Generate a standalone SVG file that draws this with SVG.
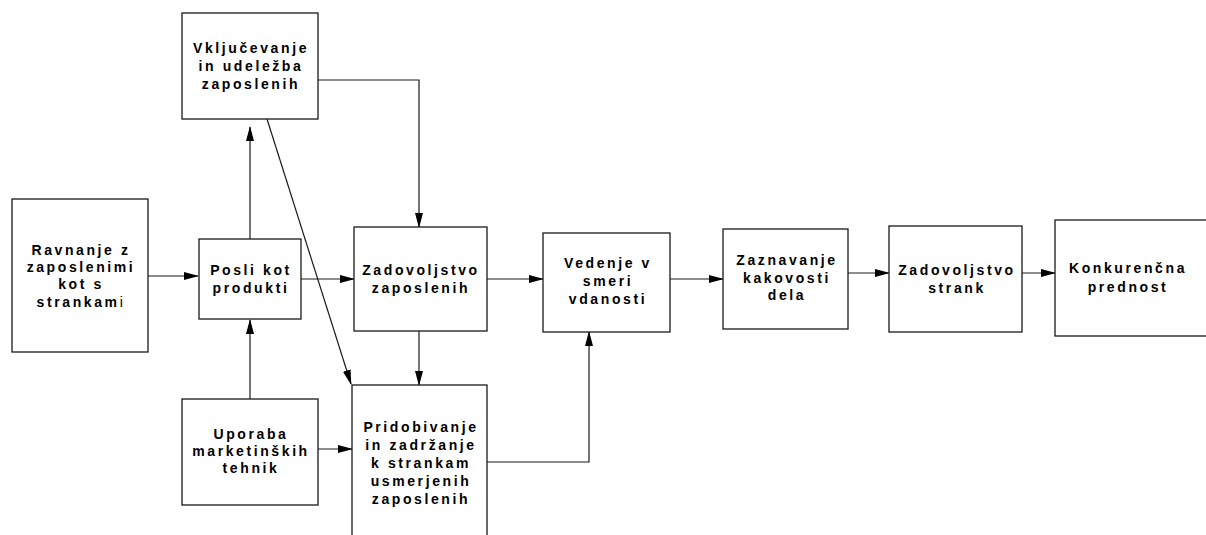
<svg xmlns="http://www.w3.org/2000/svg" width="1206" height="535" viewBox="0 0 1206 535">
  <defs>
    <marker id="arrow" markerWidth="15" markerHeight="9" refX="14" refY="4" orient="auto" markerUnits="userSpaceOnUse">
      <path d="M0,0 L15,4 L0,8 Z" fill="#000"/>
    </marker>
    <style>
      .box { fill: #fff; stroke: #1a1a1a; stroke-width: 1.3; }
      .lbl { font-family: "Liberation Sans", Arial, sans-serif; font-size: 14px; font-weight: bold; letter-spacing: 2.6px; fill: #000; text-anchor: middle; }
      .conn { fill: none; stroke: #1a1a1a; stroke-width: 1.2; }
      .thin { font-weight: normal; }
    </style>
  </defs>
  <rect width="1206" height="535" fill="#fff"/>

  <!-- connectors -->
  <g id="connectors">
    <line class="conn" x1="148" y1="276" x2="198" y2="276" marker-end="url(#arrow)"/>
    <line class="conn" x1="250" y1="239" x2="250" y2="127" marker-end="url(#arrow)"/>
    <line class="conn" x1="250" y1="399" x2="250" y2="320" marker-end="url(#arrow)"/>
    <line class="conn" x1="301" y1="279" x2="354" y2="279" marker-end="url(#arrow)"/>
    <polyline class="conn" points="318,80 419,80 419,227" marker-end="url(#arrow)"/>
    <line class="conn" x1="267" y1="119" x2="351" y2="384" marker-end="url(#arrow)"/>
    <line class="conn" x1="419" y1="331" x2="419" y2="385" marker-end="url(#arrow)"/>
    <line class="conn" x1="318" y1="449" x2="352" y2="449" marker-end="url(#arrow)"/>
    <polyline class="conn" points="487,462 589,462 589,332" marker-end="url(#arrow)"/>
    <line class="conn" x1="487" y1="279" x2="543" y2="279" marker-end="url(#arrow)"/>
    <line class="conn" x1="670" y1="279" x2="723" y2="279" marker-end="url(#arrow)"/>
    <line class="conn" x1="848" y1="273" x2="889" y2="273" marker-end="url(#arrow)"/>
    <line class="conn" x1="1022" y1="273" x2="1055" y2="273" marker-end="url(#arrow)"/>
  </g>

  <g id="ravnanje">
    <rect class="box" x="12" y="199" width="136" height="153"/>
    <text class="lbl" x="81" y="255">Ravnanje z</text>
    <text class="lbl" x="81" y="272">zaposlenimi</text>
    <text class="lbl" x="81" y="289">kot s</text>
    <text class="lbl" x="81" y="307">strankam<tspan class="thin">i</tspan></text>
  </g>

  <g id="posli">
    <rect class="box" x="199" y="239" width="102" height="80"/>
    <text class="lbl" x="251" y="275">Posli kot</text>
    <text class="lbl" x="251" y="293">produkti</text>
  </g>

  <g id="vkljucevanje">
    <rect class="box" x="182" y="13" width="136" height="106"/>
    <text class="lbl" x="251" y="53">Vključevanje</text>
    <text class="lbl" x="251" y="71">in udeležba</text>
    <text class="lbl" x="251" y="89">zaposlenih</text>
  </g>

  <g id="uporaba">
    <rect class="box" x="182" y="399" width="136" height="106"/>
    <text class="lbl" x="251" y="439">Uporaba</text>
    <text class="lbl" x="251" y="456">marketinških</text>
    <text class="lbl" x="251" y="473">tehnik</text>
  </g>

  <g id="zadovoljstvo-zaposlenih">
    <rect class="box" x="354" y="227" width="133" height="104"/>
    <text class="lbl" x="421" y="275">Zadovoljstvo</text>
    <text class="lbl" x="421" y="293">zaposlenih</text>
  </g>

  <g id="pridobivanje">
    <rect class="box" x="352" y="385" width="135" height="160"/>
    <text class="lbl" x="421" y="432">Pridobivanje</text>
    <text class="lbl" x="421" y="450">in zadržanje</text>
    <text class="lbl" x="421" y="468">k strankam</text>
    <text class="lbl" x="421" y="486">usmerjenih</text>
    <text class="lbl" x="421" y="504">zaposlenih</text>
  </g>

  <g id="vedenje">
    <rect class="box" x="543" y="233" width="127" height="99"/>
    <text class="lbl" x="608" y="268">Vedenje v</text>
    <text class="lbl" x="608" y="286">smeri</text>
    <text class="lbl" x="608" y="304">vdanosti</text>
  </g>

  <g id="zaznavanje">
    <rect class="box" x="723" y="229" width="125" height="100"/>
    <text class="lbl" x="787" y="265">Zaznavanje</text>
    <text class="lbl" x="787" y="283">kakovosti</text>
    <text class="lbl" x="787" y="300">dela</text>
  </g>

  <g id="zadovoljstvo-strank">
    <rect class="box" x="889" y="226" width="133" height="106"/>
    <text class="lbl" x="957" y="275">Zadovoljstvo</text>
    <text class="lbl" x="957" y="293">strank</text>
  </g>

  <g id="konkurencna">
    <rect class="box" x="1055" y="220" width="160" height="116"/>
    <text class="lbl" x="1128" y="273">Konkurenčna</text>
    <text class="lbl" x="1128" y="292">prednost</text>
  </g>
</svg>
